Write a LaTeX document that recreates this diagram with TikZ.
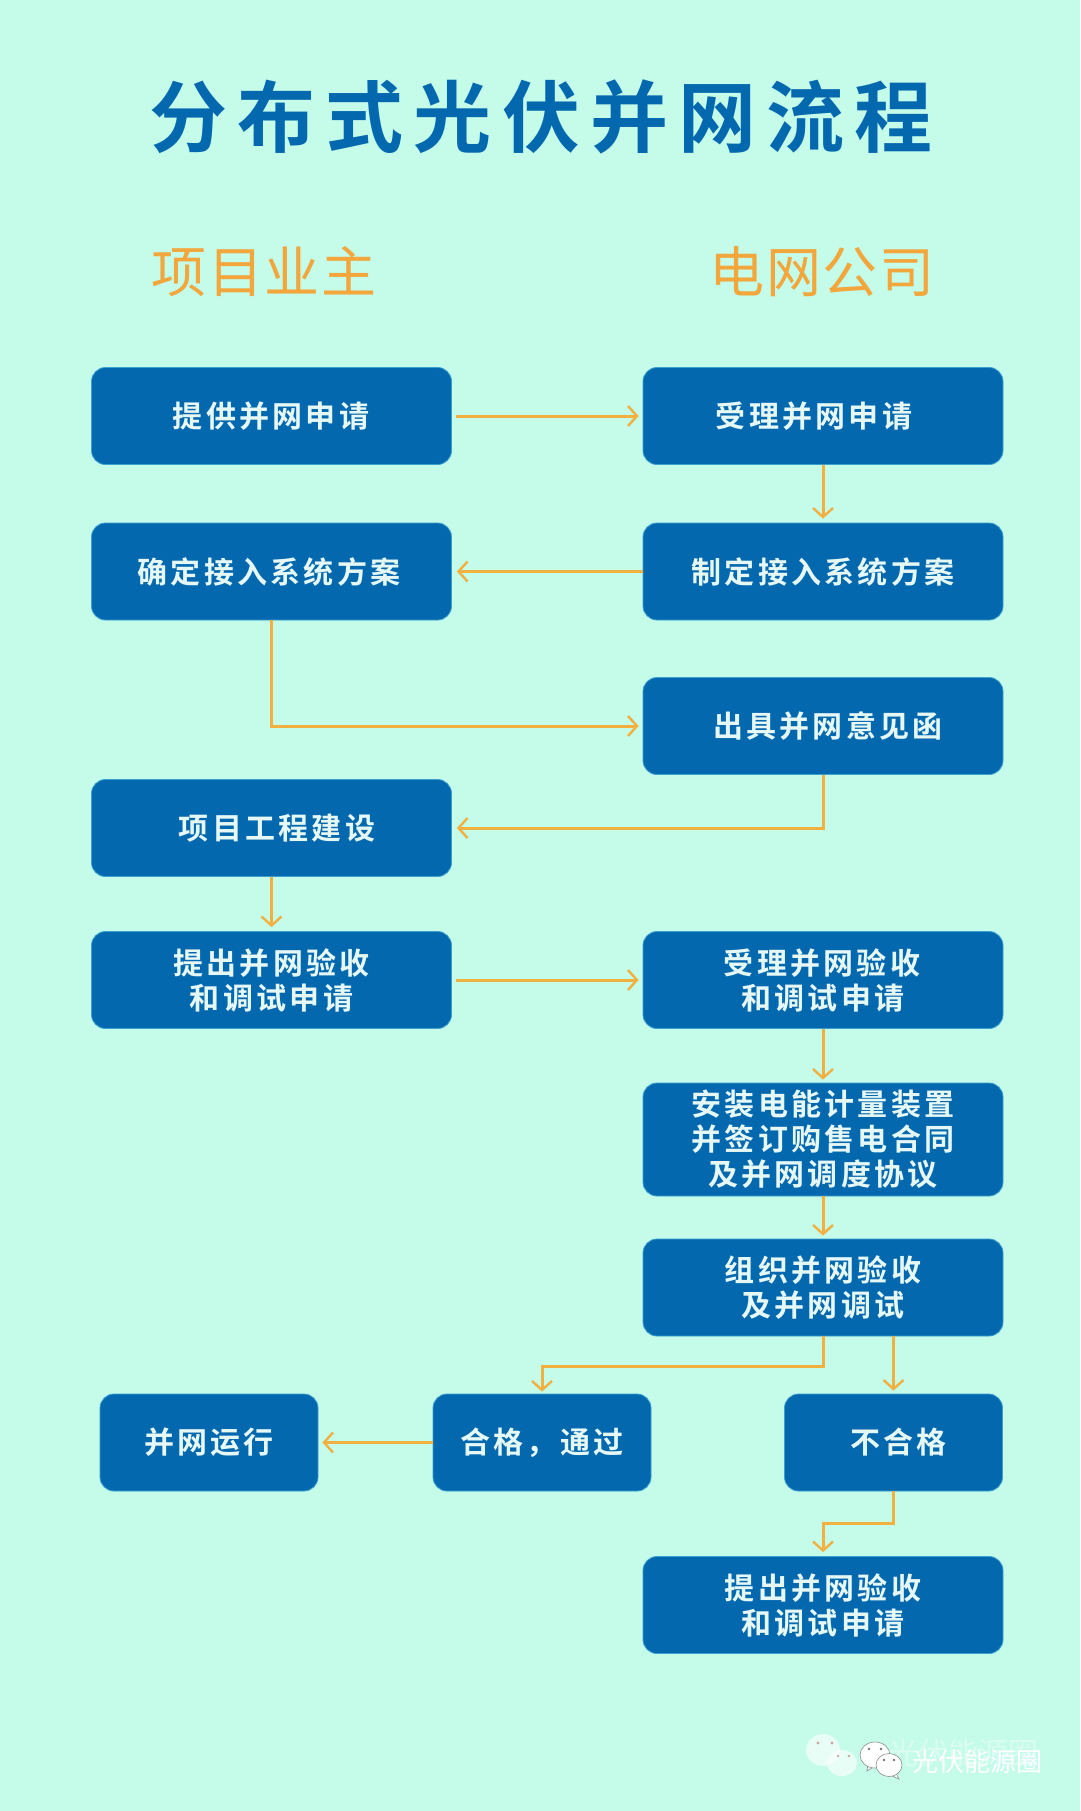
\documentclass[tikz,border=0pt]{standalone}
\usepackage{fontspec}
\usetikzlibrary{arrows.meta,calc}
\newfontfamily\boxfont[LetterSpace=11,BoldFont={Noto Sans CJK SC Bold}]{Noto Sans CJK SC}
\newfontfamily\titlefont[LetterSpace=13,BoldFont={Noto Sans CJK SC Bold}]{Noto Sans CJK SC}
\newfontfamily\headfont[LetterSpace=3]{Noto Sans CJK SC}
\newfontfamily\markfont{Noto Sans CJK SC}
\definecolor{bgc}{HTML}{C4FBE9}
\definecolor{boxc}{HTML}{0468AE}
\definecolor{edgec}{HTML}{3AA0D0}
\definecolor{arrc}{HTML}{F1B040}
\definecolor{headc}{HTML}{F2A63C}
\definecolor{txtc}{HTML}{E6F8F6}
\newcommand{\dx}[2]{\hspace*{#1pt}#2}
\tikzset{
  flow/.style={draw=edgec,line width=.8pt,fill=boxc,rounded corners=14pt,minimum width=360pt,minimum height=97pt,
    inner sep=0pt,align=center,text=txtc,font=\boxfont\bfseries\fontsize{30}{35}\selectfont},
  smallflow/.style={flow,minimum width=218pt},
  conn/.style={draw=arrc,line width=3pt,-{Straight Barb[length=9pt,width=20pt,line width=2.4pt]}},
  head/.style={text=headc,font=\headfont\fontsize{55}{60}\selectfont,inner sep=0pt},
  icon/.style={fill=white,draw=black!45,line width=.6pt},
  eye/.style={fill=black!55,draw=none},
  ghosticon/.style={fill=white,draw=none,opacity=.6},
  ghosteye/.style={fill=red!40!gray,draw=none,opacity=.5},
}
\begin{document}
\begin{tikzpicture}[x=1pt,y=-1pt]
\fill[bgc] (0,0) rectangle (1080,1811);
\useasboundingbox (0,0) rectangle (1080,1811);
\node[text=boxc,inner sep=0pt,font=\titlefont\bfseries\fontsize{78}{80}\selectfont] (title) at (541,117) {分布式光伏并网流程};
\node[head] (hleft) at (264,272) {项目业主};
\node[head] (hright) at (822,272) {电网公司};
\node[flow] (a1) at (271.5,416) {\dx{-1}{提供并网申请}};
\node[flow] (b1) at (823,416) {\dx{-18}{受理并网申请}};
\node[flow] (b2) at (823,571.5) {制定接入系统方案};
\node[flow] (a2) at (271.5,571.5) {\dx{-5}{确定接入系统方案}};
\node[flow] (b3) at (823,726) {\dx{10}{出具并网意见函}};
\node[flow] (a3) at (271.5,828) {\dx{11}{项目工程建设}};
\node[flow] (a4) at (271.5,980) {提出并网验收\\和调试申请};
\node[flow] (b4) at (823,980) {\dx{-2}{受理并网验收}\\和调试申请};
\node[flow,minimum height=113pt] (b5) at (823,1139.5) {安装电能计量装置\\并签订购售电合同\\及并网调度协议};
\node[flow] (b6) at (823,1287.5) {组织并网验收\\及并网调试};
\node[smallflow] (run) at (209,1442.5) {并网运行};
\node[smallflow] (ok) at (542,1442.5) {合格，通过};
\node[smallflow] (no) at (893.5,1442.5) {\dx{10}{不合格}};
\node[flow] (b7) at (823,1605) {提出并网验收\\和调试申请};
\draw[conn,shorten <=4pt,shorten >=4pt] (a1) -- (b1);
\draw[conn,shorten >=4pt] (b1) -- (b2);
\draw[conn,shorten >=5pt] (b2) -- (a2);
\draw[conn,shorten >=4pt] (a2.south) |- (b3.west);
\draw[conn,shorten >=5pt] (b3.south) |- (a3.east);
\draw[conn,shorten >=4pt] (a3) -- (a4);
\draw[conn,shorten <=4pt,shorten >=4pt] (a4) -- (b4);
\draw[conn,shorten >=3pt] (b4) -- (b5);
\draw[conn,shorten >=3pt] (b5) -- (b6);
\draw[conn,shorten >=2pt] (b6.south) -- ++(0,30) -| (ok.north);
\coordinate (nofrom) at (b6.south -| no.north);
\draw[conn,shorten >=3pt] (nofrom) -- (no.north);
\draw[conn,shorten >=4pt] (ok) -- (run);
\draw[conn,shorten >=4pt] (no.south) -- ++(0,32) -| (b7.north);
% watermark
\node[text=white,opacity=.4,inner sep=0pt,font=\markfont\fontsize{30}{32}\selectfont] (ghost) at (963,1753) {光伏能源圈};
\path[ghosticon] (823,1750) ellipse (17pt and 16pt);
\path[ghosticon] (842,1763) ellipse (15pt and 13pt);
\fill[ghosteye] (818,1743) circle (1.6pt) (832,1743) circle (1.6pt) (838,1756) circle (1.4pt) (849,1756) circle (1.4pt);
\path[icon] (868,1764) -- (867,1771) -- (875,1766) -- cycle;
\path[icon] (875,1755) ellipse (15pt and 13pt);
\fill[eye] (869,1749) circle (1.4pt) (881,1749) circle (1.4pt);
\path[icon] (896,1773) -- (899,1779) -- (890,1775) -- cycle;
\path[icon] (889,1765) ellipse (13pt and 11.5pt);
\fill[eye] (884,1760) circle (1.3pt) (894,1760) circle (1.3pt);
\node[text=white,inner sep=0pt,font=\markfont\fontsize{26}{30}\selectfont] (mark) at (977.5,1762) {光伏能源圈};
\end{tikzpicture}
\end{document}
